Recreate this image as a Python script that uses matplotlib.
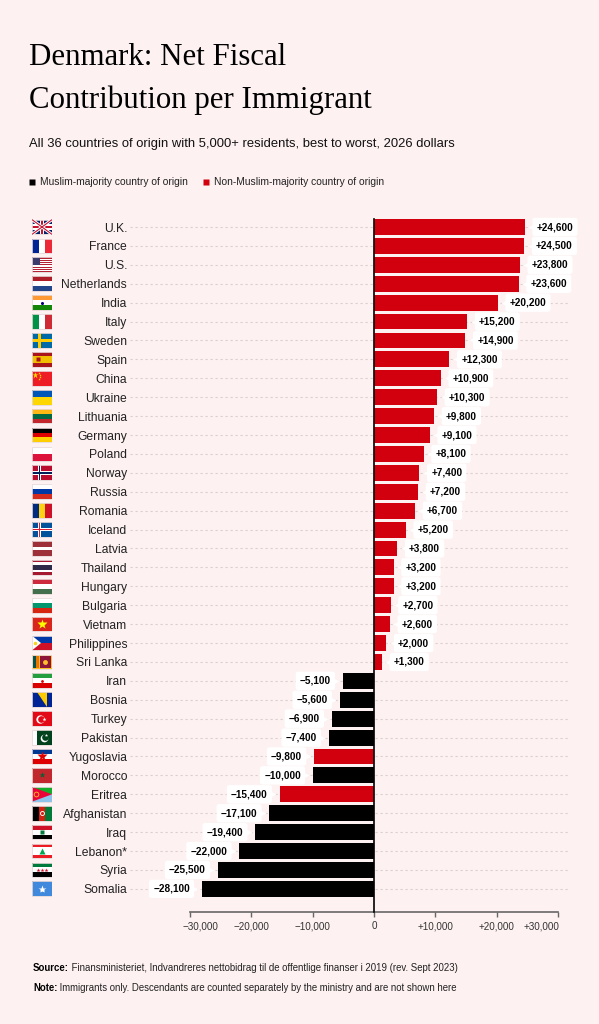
import matplotlib
matplotlib.use("Agg")
import matplotlib.pyplot as plt
from matplotlib.patches import Rectangle, Polygon
from matplotlib.lines import Line2D
import matplotlib.transforms as mtransforms

countries = ["U.K.", "France", "U.S.", "Netherlands", "India", "Italy", "Sweden", "Spain",
             "China", "Ukraine", "Lithuania", "Germany", "Poland", "Norway", "Russia", "Romania",
             "Iceland", "Latvia", "Thailand", "Hungary", "Bulgaria", "Vietnam", "Philippines",
             "Sri Lanka", "Iran", "Bosnia", "Turkey", "Pakistan", "Yugoslavia", "Morocco",
             "Eritrea", "Afghanistan", "Iraq", "Lebanon*", "Syria", "Somalia"]
net_contribution = [24600, 24500, 23800, 23600, 20200, 15200, 14900, 12300, 10900, 10300,
                    9800, 9100, 8100, 7400, 7200, 6700, 5200, 3800, 3200, 3200, 2700, 2600,
                    2000, 1300, -5100, -5600, -6900, -7400, -9800, -10000, -15400, -17100,
                    -19400, -22000, -25500, -28100]
muslim_majority = ["Iran", "Bosnia", "Turkey", "Pakistan", "Morocco", "Afghanistan", "Iraq",
                   "Lebanon*", "Syria", "Somalia"]
xticks = [-30000, -20000, -10000, 0, 10000, 20000, 30000]
xticklabels = ["\u221230,000", "\u221220,000", "\u221210,000", "0", "+10,000", "+20,000", "+30,000"]

BG = "#fdf1f1"
RED = "#d2000f"
SANS = "Liberation Sans"
SERIF = "Liberation Serif"

W, H = 599, 1024
fig = plt.figure(figsize=(W / 100, H / 100), dpi=100, facecolor=BG)


def fxy(x, y):
    return x / W, 1 - y / H


# layout of the bar area (pixels)
row0_y, row_step = 227, 18.91
axis_y, top_y = 912, 214
left_px, right_px, zero_px, px_per_k = 130, 568, 374, 6.13
y_bottom = (axis_y - row0_y) / row_step
y_top = -(row0_y - top_y) / row_step

ax = fig.add_axes([left_px / W, 1 - axis_y / H, (right_px - left_px) / W, (axis_y - top_y) / H])
ax.set_facecolor("none")
ax.set_xlim(-(zero_px - left_px) / px_per_k * 1000, (right_px - zero_px) / px_per_k * 1000)
ax.set_ylim(y_bottom, y_top)

ypos = list(range(len(countries)))
colors = ["black" if c in muslim_majority else RED for c in countries]

for yy in ypos:
    ax.axhline(yy, color="#dccfcf", lw=0.8, ls=(0, (2, 2.5)), zorder=0)

ax.barh(ypos, net_contribution, height=0.84, color=colors, zorder=2)
ax.plot([0, 0], [-0.42, y_bottom], color="black", lw=1.2, zorder=3, clip_on=False)

for spine in ["top", "right", "left"]:
    ax.spines[spine].set_visible(False)
ax.spines["bottom"].set_bounds(-30000, 30000)
ax.spines["bottom"].set_color("#666666")
ax.spines["bottom"].set_linewidth(1.2)
ax.set_xticks(xticks, labels=xticklabels)
ax.tick_params(axis="x", direction="out", length=3.5, width=1, color="#666666",
               labelsize=7.1, labelcolor="#333333", pad=3)
xl = ax.get_xticklabels()
for lbl in xl:
    lbl.set_family(SANS)
# outermost tick labels are kept inside the axis line ends
xl[0].set_ha("left")
xl[0].set_transform(xl[0].get_transform() + mtransforms.ScaledTranslation(-8 / 100, 0, fig.dpi_scale_trans))
xl[-1].set_ha("right")
xl[-1].set_transform(xl[-1].get_transform() + mtransforms.ScaledTranslation(2 / 100, 0, fig.dpi_scale_trans))

ax.set_yticks(ypos, labels=countries)
ax.tick_params(axis="y", length=0, pad=2, labelsize=8.7, labelcolor="#222222")
for lbl in ax.get_yticklabels():
    lbl.set_family(SANS)

# value labels in white boxes with a small pointer
for yy, v in zip(ypos, net_contribution):
    txt = f"{v:+,}".replace("-", "\u2212")
    sign = 1 if v > 0 else -1
    ax.annotate(txt, xy=(v, yy), xytext=(sign * 8.5, 0), textcoords="offset points",
                ha="left" if v > 0 else "right", va="center", fontsize=7.2,
                fontweight="bold", family=SANS, color="black", zorder=5,
                bbox=dict(boxstyle="round,pad=0.42,rounding_size=0.25", fc="white", ec="none"))
    tr = mtransforms.offset_copy(ax.transData, fig=fig, x=sign * 4.6, y=0, units="points")
    ax.plot([v], [yy], marker="<" if v > 0 else ">", ms=3.8, color="white",
            mec="none", transform=tr, zorder=5, clip_on=False)

# ---- flags ----
FW = 20
FH = 14.75 / row_step
fax = fig.add_axes([32 / W, 1 - axis_y / H, FW / W, (axis_y - top_y) / H])
fax.set_xlim(0, FW)
fax.set_ylim(y_bottom, y_top)
fax.axis("off")


def P(yc, u, v):
    return (u * FW, yc - FH / 2 + v * FH)


def rect(yc, u0, v0, u1, v1, c):
    x0, y0 = P(yc, u0, v0)
    fax.add_patch(Rectangle((x0, y0), (u1 - u0) * FW, (v1 - v0) * FH, color=c, lw=0))


def hstripes(yc, cols, weights=None):
    weights = weights or [1] * len(cols)
    tot, acc = sum(weights), 0
    for c, w in zip(cols, weights):
        rect(yc, 0, acc / tot, 1, (acc + w) / tot, c)
        acc += w


def vstripes(yc, cols):
    n = len(cols)
    for k, c in enumerate(cols):
        rect(yc, k / n, 0, (k + 1) / n, 1, c)


def poly(yc, pts, c):
    fax.add_patch(Polygon([P(yc, u, v) for u, v in pts], closed=True, color=c, lw=0))


def mark(yc, u, v, m, size, c):
    x, y = P(yc, u, v)
    fax.plot([x], [y], marker=m, ms=size, color=c, mec="none")


def line(yc, u0, v0, u1, v1, lw, c):
    a, b = P(yc, u0, v0), P(yc, u1, v1)
    fax.plot([a[0], b[0]], [a[1], b[1]], color=c, lw=lw, solid_capstyle="butt")


def nordic(yc, bg, outer, inner=None):
    rect(yc, 0, 0, 1, 1, bg)
    rect(yc, 0.28, 0, 0.47, 1, outer)
    rect(yc, 0, 0.37, 1, 0.63, outer)
    if inner:
        rect(yc, 0.33, 0, 0.42, 1, inner)
        rect(yc, 0, 0.44, 1, 0.56, inner)


def draw_flag(name, yc):
    if name == "U.K.":
        rect(yc, 0, 0, 1, 1, "#012169")
        line(yc, 0, 0, 1, 1, 2.2, "white")
        line(yc, 0, 1, 1, 0, 2.2, "white")
        line(yc, 0, 0, 1, 1, 0.8, "#C8102E")
        line(yc, 0, 1, 1, 0, 0.8, "#C8102E")
        rect(yc, 0.4, 0, 0.6, 1, "white")
        rect(yc, 0, 0.33, 1, 0.67, "white")
        rect(yc, 0.45, 0, 0.55, 1, "#C8102E")
        rect(yc, 0, 0.41, 1, 0.59, "#C8102E")
    elif name == "France":
        vstripes(yc, ["#002395", "white", "#ED2939"])
    elif name == "U.S.":
        hstripes(yc, ["#B22234", "white"] * 6 + ["#B22234"])
        rect(yc, 0, 0, 0.42, 7 / 13, "#3C3B6E")
    elif name == "Netherlands":
        hstripes(yc, ["#AE1C28", "white", "#21468B"])
    elif name == "India":
        hstripes(yc, ["#FF9933", "white", "#138808"])
        mark(yc, 0.5, 0.5, "o", 2.2, "#000080")
    elif name == "Italy":
        vstripes(yc, ["#009246", "white", "#CE2B37"])
    elif name == "Sweden":
        nordic(yc, "#006AA7", "#FECC00")
    elif name == "Spain":
        hstripes(yc, ["#AA151B", "#F1BF00", "#AA151B"], [1, 2, 1])
        mark(yc, 0.3, 0.5, "s", 2.2, "#AA151B")
    elif name == "China":
        rect(yc, 0, 0, 1, 1, "#EE1C25")
        mark(yc, 0.17, 0.27, "*", 4.5, "#FFDE00")
        for u, v in [(0.33, 0.12), (0.4, 0.25), (0.4, 0.42), (0.33, 0.53)]:
            mark(yc, u, v, "*", 1.8, "#FFDE00")
    elif name == "Ukraine":
        hstripes(yc, ["#0057B7", "#FFD700"])
    elif name == "Lithuania":
        hstripes(yc, ["#FDB913", "#006A44", "#C1272D"])
    elif name == "Germany":
        hstripes(yc, ["black", "#DD0000", "#FFCE00"])
    elif name == "Poland":
        hstripes(yc, ["white", "#DC143C"])
    elif name == "Norway":
        nordic(yc, "#BA0C2F", "white", "#00205B")
    elif name == "Russia":
        hstripes(yc, ["white", "#0039A6", "#D52B1E"])
    elif name == "Romania":
        vstripes(yc, ["#002B7F", "#FCD116", "#CE1126"])
    elif name == "Iceland":
        nordic(yc, "#02529C", "white", "#DC1E35")
    elif name == "Latvia":
        hstripes(yc, ["#9E3039", "white", "#9E3039"], [2, 1, 2])
    elif name == "Thailand":
        hstripes(yc, ["#A51931", "white", "#2D2A4A", "white", "#A51931"], [1, 1, 2, 1, 1])
    elif name == "Hungary":
        hstripes(yc, ["#CD2A3E", "white", "#436F4D"])
    elif name == "Bulgaria":
        hstripes(yc, ["white", "#00966E", "#D62612"])
    elif name == "Vietnam":
        rect(yc, 0, 0, 1, 1, "#DA251D")
        mark(yc, 0.5, 0.5, "*", 7, "#FFFF00")
    elif name == "Philippines":
        hstripes(yc, ["#0038A8", "#CE1126"])
        poly(yc, [(0, 0), (0.45, 0.5), (0, 1)], "white")
        mark(yc, 0.15, 0.5, "o", 2.5, "#FCD116")
    elif name == "Sri Lanka":
        rect(yc, 0, 0, 1, 1, "#FFBE29")
        rect(yc, 0.06, 0.08, 0.2, 0.92, "#00534E")
        rect(yc, 0.2, 0.08, 0.33, 0.92, "#EB7400")
        rect(yc, 0.38, 0.08, 0.94, 0.92, "#8D153A")
        mark(yc, 0.66, 0.5, "o", 3.5, "#FFBE29")
    elif name == "Iran":
        hstripes(yc, ["#239F40", "white", "#DA0000"])
        mark(yc, 0.5, 0.5, "o", 2, "#DA0000")
    elif name == "Bosnia":
        rect(yc, 0, 0, 1, 1, "#002395")
        poly(yc, [(0.27, 0), (0.77, 0), (0.77, 1)], "#FECB00")
    elif name == "Turkey":
        rect(yc, 0, 0, 1, 1, "#E30A17")
        mark(yc, 0.38, 0.5, "o", 6, "white")
        mark(yc, 0.44, 0.5, "o", 4.8, "#E30A17")
        mark(yc, 0.6, 0.5, "*", 3, "white")
    elif name == "Pakistan":
        rect(yc, 0, 0, 1, 1, "#01411C")
        rect(yc, 0, 0, 0.25, 1, "white")
        mark(yc, 0.6, 0.55, "o", 5.5, "white")
        mark(yc, 0.66, 0.45, "o", 4.8, "#01411C")
        mark(yc, 0.72, 0.35, "*", 2.5, "white")
    elif name == "Yugoslavia":
        hstripes(yc, ["#003893", "white", "#DE0000"])
        mark(yc, 0.5, 0.5, "*", 7, "#DE0000")
    elif name == "Morocco":
        rect(yc, 0, 0, 1, 1, "#C1272D")
        mark(yc, 0.5, 0.5, "*", 4, "#006233")
    elif name == "Eritrea":
        hstripes(yc, ["#12AD2B", "#8ec3ec"])
        poly(yc, [(0, 0), (1, 0.5), (0, 1)], "#EA0437")
        mark(yc, 0.22, 0.5, "o", 4, "#FFC726")
        mark(yc, 0.22, 0.5, "o", 2.8, "#EA0437")
    elif name == "Afghanistan":
        vstripes(yc, ["black", "#D32011", "#007A36"])
        mark(yc, 0.5, 0.5, "o", 3.5, "white")
        mark(yc, 0.5, 0.5, "o", 2.2, "#D32011")
    elif name == "Iraq":
        hstripes(yc, ["#CE1126", "white", "black"])
        mark(yc, 0.5, 0.5, "s", 2.5, "#007A3D")
    elif name == "Lebanon*":
        hstripes(yc, ["#ED1C24", "white", "#ED1C24"], [1, 2, 1])
        mark(yc, 0.5, 0.5, "^", 5, "#00A651")
    elif name == "Syria":
        hstripes(yc, ["#007A3D", "white", "black"])
        for u in (0.3, 0.5, 0.7):
            mark(yc, u, 0.5, "*", 3, "#CE1126")
    elif name == "Somalia":
        rect(yc, 0, 0, 1, 1, "#4189DD")
        mark(yc, 0.5, 0.5, "*", 6, "white")
    # faint frame so white parts stay visible on the pink background
    x0, y0 = P(yc, 0, 0)
    fax.add_patch(Rectangle((x0, y0), FW, FH, fill=False, ec="#e6d8d8", lw=0.6))


for name, yy in zip(countries, ypos):
    draw_flag(name, yy)

# ---- titles, legend, footer ----
x0, y0 = fxy(29, 65)
fig.text(x0, y0, "Denmark: Net Fiscal", family=SERIF, fontsize=22.2, va="baseline")
x0, y0 = fxy(29, 108)
fig.text(x0, y0, "Contribution per Immigrant", family=SERIF, fontsize=22.2, va="baseline")
x0, y0 = fxy(29, 147)
fig.text(x0, y0, "All 36 countries of origin with 5,000+ residents, best to worst, 2026 dollars",
         family=SANS, fontsize=9.35, va="baseline", color="#111111")

for lx, tx, col, label in [(31.5, 40, "black", "Muslim-majority country of origin"),
                           (205.5, 214, RED, "Non-Muslim-majority country of origin")]:
    mx, my = fxy(lx, 182)
    fig.add_artist(Line2D([mx], [my], marker="s", ms=5, color=col, mec="none",
                          transform=fig.transFigure))
    tx_, ty_ = fxy(tx, 182)
    fig.text(tx_, ty_, label, family=SANS, fontsize=7.35, va="center", color="#222222")

renderer = fig.canvas.get_renderer()
for yline, head, body in [(968, "Source:", " Finansministeriet, Indvandreres nettobidrag til de offentlige finanser i 2019 (rev. Sept 2023)"),
                          (988, "Note:", " Immigrants only. Descendants are counted separately by the ministry and are not shown here")]:
    hx, hy = fxy(33, yline)
    t = fig.text(hx, hy, head, family=SANS, fontsize=6.9, fontweight="bold", va="center")
    bb = t.get_window_extent(renderer=renderer)
    fig.text(bb.x1 / W, hy, body, family=SANS, fontsize=6.9, va="center", color="#222222")

fig.savefig("out.png", dpi=100, facecolor=BG)
